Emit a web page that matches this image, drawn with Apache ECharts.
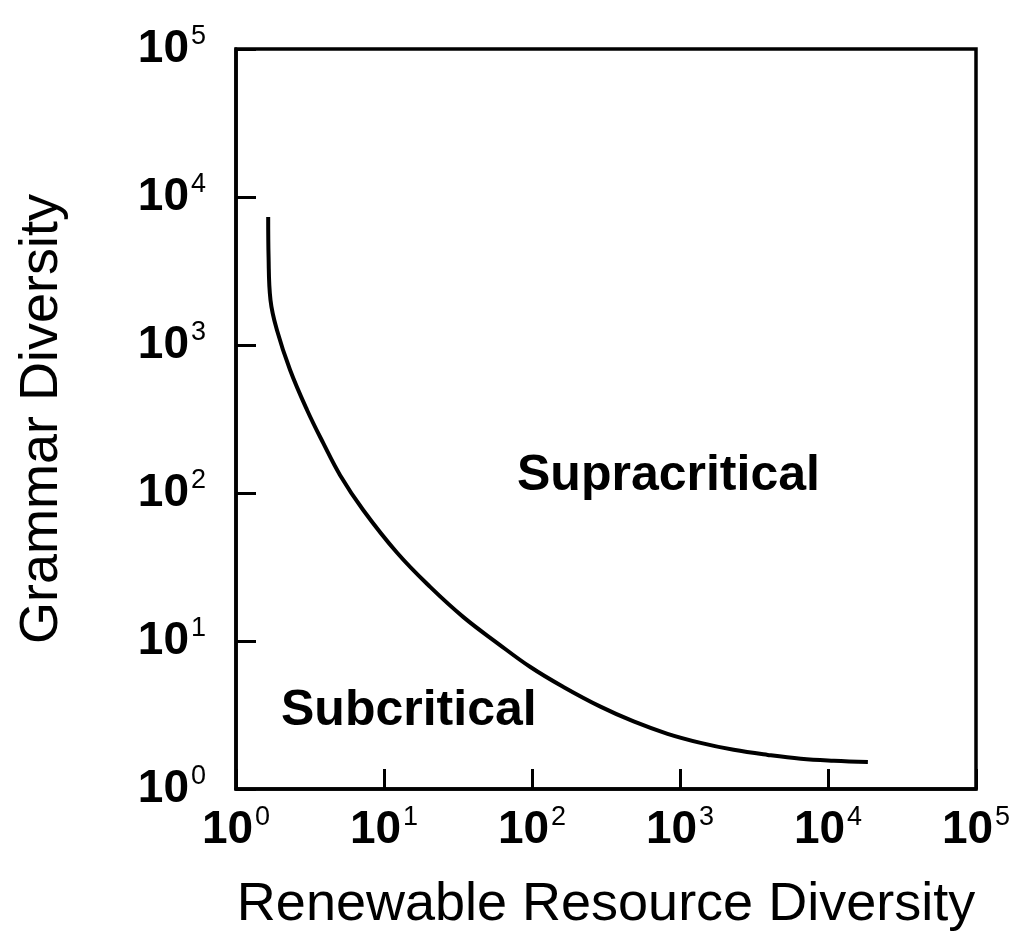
<!DOCTYPE html>
<html>
<head>
<meta charset="utf-8">
<script src="https://cdn.jsdelivr.net/npm/echarts@6/dist/echarts.min.js"></script>
<style>html,body{margin:0;padding:0;background:#fff;}#c{width:1010px;height:945px;}</style>
</head>
<body>
<div id="c"></div>
<script>
// Boundary curve between subcritical and supracritical regimes
const resourceDiversity = [1.65, 1.66, 1.71, 1.89, 2.32, 3.02, 3.88, 5.05, 7.23, 12.3, 20.5, 34.4, 58.3, 97.5, 163, 290, 486, 824, 1378, 2305, 3915, 6550, 10950, 18600];
const grammarDiversity  = [7330, 3935, 2015, 1262, 678, 364, 218, 132, 76.8, 39.3, 23.2, 14.5, 9.69, 6.67, 4.89, 3.60, 2.86, 2.36, 2.05, 1.84, 1.70, 1.60, 1.55, 1.52];
const tickValues = [1, 10, 100, 1000, 10000, 100000];
const xTitle = 'Renewable Resource Diversity';
const yTitle = 'Grammar Diversity';
const regionLabels = ['Supracritical', 'Subcritical'];

const FONT = '"Liberation Sans", Arial, Helvetica, sans-serif';
const curve = resourceDiversity.map((x, i) => [x, grammarDiversity[i]]);

function fmt(v) {
  const e = Math.round(Math.log10(v));
  return '{b|10}{s|' + e + '}';
}
const rich = {
  b: {fontSize: 46, fontWeight: 'bold', fontFamily: FONT, color: '#000', lineHeight: 50},
  s: {fontSize: 27, fontFamily: FONT, color: '#000', padding: [0, 0, 24, 2], lineHeight: 50}
};

const chart = echarts.init(document.getElementById('c'), null, {renderer: 'canvas'});
chart.setOption({
  backgroundColor: '#fff',
  animation: false,
  grid: {left: 236, right: 34, top: 49, bottom: 156, containLabel: false, outerBoundsMode: 'none',
         show: true, borderColor: '#000', borderWidth: 3.5, backgroundColor: 'transparent'},
  xAxis: {
    type: 'log', logBase: 10, min: tickValues[0], max: tickValues[tickValues.length - 1], interval: 1,
    name: xTitle, nameLocation: 'middle', nameGap: 89,
    nameTextStyle: {fontSize: 54, fontFamily: FONT, color: '#000'},
    axisLine: {show: true, lineStyle: {color: '#000', width: 3.5}},
    axisTick: {show: true, inside: true, length: 20, lineStyle: {color: '#000', width: 3}},
    minorTick: {show: false},
    splitLine: {show: false},
    axisLabel: {formatter: fmt, rich: rich, margin: 16, showMinLabel: true, showMaxLabel: true, hideOverlap: false}
  },
  yAxis: {
    type: 'log', logBase: 10, min: tickValues[0], max: tickValues[tickValues.length - 1], interval: 1,
    name: yTitle, nameLocation: 'middle', nameGap: 167, nameRotate: 90,
    nameTextStyle: {fontSize: 54, fontFamily: FONT, color: '#000'},
    axisLine: {show: true, lineStyle: {color: '#000', width: 3.5}},
    axisTick: {show: true, inside: true, length: 20, lineStyle: {color: '#000', width: 3}},
    splitLine: {show: false},
    axisLabel: {formatter: fmt, rich: rich, margin: 30, showMinLabel: true, showMaxLabel: true, hideOverlap: false}
  },
  graphic: [
    {type: 'text', left: 517, top: 451, style: {text: regionLabels[0], font: 'bold 50px ' + FONT, fill: '#000'}},
    {type: 'text', left: 281, top: 686, style: {text: regionLabels[1], font: 'bold 50px ' + FONT, fill: '#000'}}
  ],
  series: [{
    type: 'line',
    data: curve,
    showSymbol: false,
    symbol: 'none',
    smooth: 0.4,
    lineStyle: {color: '#000', width: 4},
    silent: true
  }]
});
</script>
</body>
</html>
